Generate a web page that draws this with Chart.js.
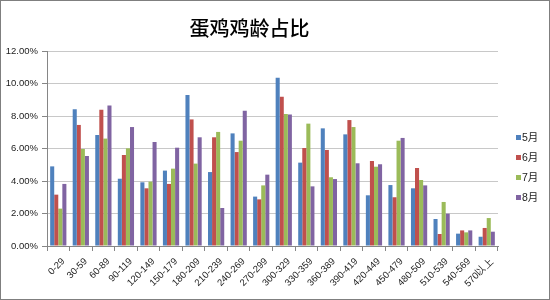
<!DOCTYPE html>
<html>
<head>
<meta charset="utf-8">
<script src="https://cdn.jsdelivr.net/npm/chart.js@4/dist/chart.umd.min.js"></script>
<style>
  html, body { margin: 0; padding: 0; background: #fff; }
  #wrap { width: 548px; height: 298px; border: 1px solid #7f7f7f; }
</style>
</head>
<body>
<div id="wrap"><canvas id="chart" width="548" height="298"></canvas></div>
<script>
// Группы по возрасту (дни)
const ageGroups = ['0-29', '30-59', '60-89', '90-119', '120-149', '150-179', '180-209', '210-239',
  '240-269', '270-299', '300-329', '330-359', '360-389', '390-419', '420-449', '450-479',
  '480-509', '510-539', '540-569', '570以上'];

// Доли, %
const may = [4.90, 8.41, 6.83, 4.14, 3.92, 4.64, 9.29, 4.55, 6.93, 3.04, 10.36, 5.13, 7.24, 6.87, 3.12, 3.75, 3.55, 1.66, 0.76, 0.57];
const jun = [3.16, 7.45, 8.39, 5.60, 3.55, 3.82, 7.79, 6.69, 5.78, 2.87, 9.19, 6.03, 5.91, 7.75, 5.23, 3.00, 4.80, 0.74, 0.96, 1.11];
const jul = [2.30, 5.97, 6.61, 6.01, 3.96, 4.76, 5.07, 7.02, 6.48, 3.73, 8.12, 7.53, 4.23, 7.32, 4.88, 6.48, 4.06, 2.71, 0.84, 1.72];
const aug = [3.82, 5.54, 8.64, 7.32, 6.40, 6.05, 6.69, 2.34, 8.33, 4.39, 8.10, 3.67, 4.12, 5.09, 5.03, 6.65, 3.73, 1.99, 0.96, 0.88];

const seriesLabels = ['5月', '6月', '7月', '8月'];
const yTicks = { min: 0, max: 12, step: 2 };

const COLORS = ['#4F81BD', '#C0504D', '#9BBB59', '#8064A2'];
const AXIS = '#868686';
const LABEL_FONT = { family: '"Liberation Sans", Arial, sans-serif', size: 9.5 };

// Легенда справа (как в Excel)
const sideLegend = {
  id: 'sideLegend',
  afterDraw(chart) {
    const ctx = chart.ctx;
    ctx.save();
    ctx.font = '10.5px "Liberation Sans", "Noto Sans CJK SC", sans-serif';
    ctx.textBaseline = 'middle';
    chart.data.datasets.forEach((ds, i) => {
      const y = 137 + i * 20;
      ctx.fillStyle = ds.backgroundColor;
      ctx.fillRect(515, y - 3, 5, 5);
      ctx.fillStyle = '#222';
      ctx.fillText(ds.label, 521, y);
    });
    ctx.restore();
  }
};

const ctx = document.getElementById('chart').getContext('2d');
new Chart(ctx, {
  type: 'bar',
  data: {
    labels: ageGroups,
    datasets: [may, jun, jul, aug].map((d, i) => ({
      label: seriesLabels[i],
      data: d,
      backgroundColor: COLORS[i],
      borderWidth: 0,
      categoryPercentage: 0.72,
      barPercentage: 1.0
    }))
  },
  options: {
    responsive: false,
    animation: false,
    layout: { padding: { left: 0, right: 51, top: 0, bottom: 0 } },
    scales: {
      x: {
        grid: { drawOnChartArea: false, drawTicks: true, tickLength: 5, color: AXIS, offset: true },
        border: { color: AXIS },
        ticks: {
          font: LABEL_FONT, color: '#222',
          minRotation: 45, maxRotation: 45, autoSkip: false,
          padding: 5, labelOffset: 5
        },
        afterFit(s) { s.height = 53; }
      },
      y: {
        min: yTicks.min,
        max: yTicks.max,
        grid: { color: '#c8c8c8', tickColor: AXIS, tickLength: 5 },
        border: { color: AXIS },
        ticks: {
          stepSize: yTicks.step,
          font: LABEL_FONT,
          color: '#222',
          padding: 4,
          callback: v => v.toFixed(2) + '%'
        },
        afterFit(s) { s.width = 46; }
      }
    },
    plugins: {
      legend: { display: false },
      tooltip: { enabled: false },
      title: {
        display: true,
        text: '蛋鸡鸡龄占比',
        color: '#000',
        font: { family: '"Noto Sans CJK SC", sans-serif', size: 20, weight: '500' },
        padding: { top: 15, bottom: 11 }
      }
    }
  },
  plugins: [sideLegend]
});
</script>
</body>
</html>
